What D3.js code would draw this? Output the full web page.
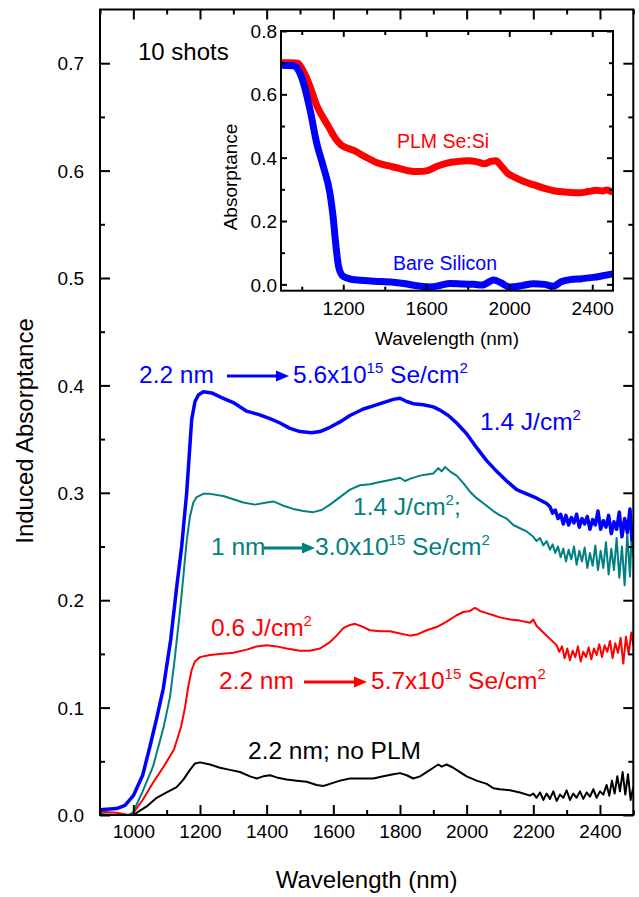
<!DOCTYPE html>
<html>
<head>
<meta charset="utf-8">
<script src="https://cdn.jsdelivr.net/npm/d3@7"></script>
<style>
  html, body { margin: 0; padding: 0; background: #fff; }
  svg { display: block; font-family: "Liberation Sans", Arial, sans-serif; }
</style>
</head>
<body>
<svg id="chart" width="639" height="897"></svg>
<script>
// ---------------- DATA ----------------
// Main panel: [wavelength nm, induced absorptance]
const blueSeries = [[900,0.005],[950,0.006],[975,0.009],[1000,0.018],[1028,0.037],[1050,0.064],[1070,0.090],[1090,0.118],[1112,0.163],[1130,0.212],[1145,0.250],[1160,0.300],[1175,0.368],[1185,0.385],[1195,0.391],[1210,0.394],[1235,0.393],[1270,0.388],[1300,0.384],[1340,0.376],[1375,0.373],[1410,0.369],[1440,0.365],[1470,0.360],[1500,0.357],[1535,0.356],[1560,0.357],[1590,0.361],[1620,0.366],[1650,0.372],[1690,0.378],[1720,0.381],[1750,0.384],[1780,0.387],[1800,0.388],[1820,0.385],[1840,0.383],[1870,0.382],[1900,0.380],[1920,0.377],[1945,0.372],[1970,0.365],[2000,0.355],[2030,0.342],[2060,0.330],[2090,0.320],[2120,0.311],[2150,0.303],[2180,0.299],[2210,0.295],[2240,0.290],[2250,0.287],[2258,0.281],[2266,0.284],[2274,0.276],[2282,0.280],[2290,0.271],[2298,0.279],[2306,0.270],[2314,0.277],[2322,0.272],[2330,0.280],[2338,0.268],[2346,0.276],[2354,0.271],[2362,0.278],[2370,0.266],[2378,0.275],[2386,0.270],[2394,0.283],[2402,0.266],[2410,0.274],[2418,0.268],[2426,0.279],[2434,0.262],[2442,0.273],[2450,0.266],[2458,0.282],[2466,0.259],[2474,0.276],[2482,0.263],[2490,0.285],[2496,0.256],[2500,0.270]];

const tealSeries = [[900,0.001],[950,0.000],[980,-0.002],[1000,0.003],[1028,0.022],[1059,0.045],[1091,0.082],[1110,0.110],[1123,0.142],[1140,0.190],[1150,0.222],[1160,0.255],[1170,0.278],[1180,0.291],[1190,0.296],[1210,0.299],[1230,0.299],[1270,0.297],[1300,0.294],[1330,0.291],[1365,0.289],[1400,0.291],[1420,0.292],[1450,0.288],[1480,0.285],[1510,0.283],[1540,0.282],[1565,0.284],[1590,0.289],[1620,0.296],[1650,0.303],[1680,0.307],[1710,0.308],[1740,0.310],[1770,0.312],[1800,0.314],[1815,0.311],[1830,0.313],[1860,0.316],[1880,0.317],[1900,0.318],[1915,0.323],[1925,0.320],[1935,0.324],[1950,0.320],[1970,0.316],[1990,0.309],[2010,0.301],[2030,0.295],[2060,0.288],[2080,0.283],[2100,0.279],[2120,0.276],[2140,0.270],[2160,0.267],[2180,0.264],[2200,0.259],[2210,0.255],[2220,0.258],[2230,0.251],[2240,0.255],[2250,0.247],[2258,0.252],[2266,0.244],[2274,0.250],[2282,0.240],[2290,0.248],[2298,0.236],[2306,0.247],[2314,0.238],[2322,0.250],[2330,0.233],[2338,0.246],[2346,0.236],[2354,0.249],[2362,0.230],[2370,0.244],[2378,0.232],[2386,0.251],[2394,0.228],[2402,0.246],[2410,0.230],[2418,0.254],[2426,0.224],[2434,0.248],[2442,0.228],[2450,0.258],[2458,0.221],[2466,0.250],[2474,0.214],[2482,0.262],[2490,0.222],[2496,0.268],[2500,0.240]];

const redSeries = [[900,0.003],[950,0.002],[985,0.000],[1000,0.002],[1028,0.014],[1059,0.030],[1091,0.045],[1122,0.061],[1143,0.082],[1155,0.100],[1165,0.120],[1175,0.135],[1185,0.143],[1200,0.147],[1230,0.149],[1260,0.150],[1300,0.151],[1340,0.154],[1370,0.157],[1400,0.158],[1430,0.157],[1460,0.155],[1500,0.153],[1530,0.153],[1560,0.155],[1590,0.161],[1610,0.167],[1630,0.174],[1650,0.177],[1665,0.178],[1690,0.175],[1710,0.172],[1740,0.171],[1770,0.171],[1800,0.169],[1830,0.167],[1850,0.168],[1880,0.172],[1910,0.175],[1940,0.180],[1970,0.186],[1990,0.189],[2010,0.190],[2025,0.193],[2040,0.190],[2060,0.188],[2080,0.186],[2100,0.184],[2130,0.182],[2160,0.181],[2190,0.179],[2200,0.182],[2210,0.176],[2230,0.170],[2250,0.164],[2270,0.158],[2278,0.152],[2286,0.157],[2294,0.146],[2302,0.155],[2310,0.144],[2318,0.153],[2326,0.147],[2334,0.157],[2342,0.143],[2350,0.152],[2358,0.147],[2366,0.156],[2374,0.145],[2382,0.155],[2390,0.149],[2398,0.159],[2406,0.147],[2414,0.158],[2422,0.152],[2430,0.162],[2438,0.146],[2446,0.160],[2454,0.151],[2462,0.165],[2470,0.141],[2478,0.166],[2486,0.150],[2494,0.170],[2500,0.158]];

const blackSeries = [[900,0.000],[950,-0.001],[1000,0.000],[1020,0.004],[1040,0.008],[1070,0.016],[1100,0.021],[1130,0.026],[1150,0.033],[1170,0.042],[1185,0.048],[1200,0.049],[1230,0.047],[1260,0.044],[1290,0.042],[1320,0.040],[1350,0.036],[1370,0.034],[1390,0.036],[1410,0.037],[1430,0.035],[1460,0.033],[1490,0.032],[1520,0.031],[1550,0.028],[1570,0.027],[1590,0.029],[1620,0.032],[1650,0.034],[1690,0.034],[1720,0.034],[1750,0.036],[1780,0.038],[1800,0.039],[1820,0.037],[1840,0.034],[1860,0.036],[1880,0.040],[1900,0.044],[1915,0.047],[1925,0.045],[1940,0.047],[1960,0.044],[1980,0.040],[2000,0.036],[2030,0.032],[2060,0.029],[2080,0.025],[2100,0.024],[2130,0.023],[2160,0.021],[2190,0.018],[2200,0.020],[2210,0.016],[2220,0.021],[2230,0.014],[2240,0.020],[2250,0.015],[2260,0.022],[2270,0.013],[2280,0.019],[2290,0.016],[2300,0.023],[2310,0.014],[2320,0.020],[2330,0.016],[2340,0.022],[2350,0.015],[2360,0.021],[2370,0.017],[2380,0.024],[2390,0.016],[2400,0.022],[2410,0.019],[2420,0.028],[2428,0.018],[2436,0.032],[2444,0.020],[2452,0.036],[2460,0.022],[2468,0.040],[2476,0.019],[2484,0.038],[2492,0.014],[2500,0.026]];

// Inset: [wavelength nm, absorptance]
const insetRedSeries = [[900,0.700],[950,0.700],[980,0.698],[1010,0.670],[1040,0.625],[1072,0.565],[1100,0.530],[1130,0.497],[1160,0.463],[1190,0.440],[1220,0.430],[1260,0.420],[1300,0.405],[1360,0.385],[1420,0.374],[1460,0.368],[1520,0.358],[1560,0.356],[1610,0.360],[1650,0.372],[1700,0.383],[1750,0.388],[1800,0.390],[1850,0.386],[1880,0.381],[1910,0.388],[1935,0.390],[1960,0.375],[1990,0.352],[2030,0.337],[2070,0.325],[2120,0.314],[2170,0.303],[2220,0.295],[2280,0.291],[2340,0.289],[2380,0.293],[2420,0.297],[2450,0.295],[2470,0.298],[2500,0.290]];
const insetBlueSeries = [[900,0.692],[960,0.690],[985,0.675],[1010,0.632],[1040,0.551],[1072,0.446],[1104,0.372],[1136,0.287],[1150,0.220],[1165,0.120],[1178,0.055],[1200,0.025],[1240,0.016],[1280,0.013],[1350,0.010],[1440,0.007],[1500,0.002],[1540,-0.003],[1620,-0.008],[1670,-0.003],[1714,0.003],[1780,0.001],[1830,0.000],[1870,-0.002],[1925,0.014],[1960,0.005],[2000,-0.008],[2060,-0.004],[2116,0.002],[2170,0.000],[2212,-0.006],[2250,0.008],[2293,0.015],[2350,0.018],[2405,0.022],[2450,0.027],[2500,0.033]];

// Tick values
const mainXTicks = [1000,1200,1400,1600,1800,2000,2200,2400];
const mainXMinor = [900,1100,1300,1500,1700,1900,2100,2300,2500];
const mainYTicks = [0.0,0.1,0.2,0.3,0.4,0.5,0.6,0.7];
const mainYMinor = [0.05,0.15,0.25,0.35,0.45,0.55,0.65];
const insetXTicks = [1200,1600,2000,2400];
const insetXMinor = [1000,1400,1800,2200];
const insetYTicks = [0.0,0.2,0.4,0.6,0.8];
const insetYMinor = [0.1,0.3,0.5,0.7];

// ---------------- DRAWING ----------------
const svg = d3.select("#chart");
const FONT = '"Liberation Sans", Arial, sans-serif';
const ANN = 24.5, SUP = 15;

const M = {left:100, right:633.3, top:9.5, bottom:815};
const x = d3.scaleLinear().domain([900,2500]).range([M.left, M.right]);
const y = d3.scaleLinear().domain([0,0.75]).range([M.bottom, M.top]);

const I = {left:281, right:613, top:31, bottom:290.7};
const xi = d3.scaleLinear().domain([900,2500]).range([I.left, I.right]);
const yi = d3.scaleLinear().domain([-0.02,0.8]).range([I.bottom, I.top]);

function drawFrame(xs, ys, box, o) {
  const g = svg.append("g");
  const mk = (axisFn, scale, vals, size, tx, ty, labels, fmt) => {
    const a = axisFn(scale).tickValues(vals).tickSize(size).tickPadding(o.pad);
    if (labels) a.tickFormat(fmt); else a.tickFormat("");
    const gg = g.append("g").attr("transform", `translate(${tx},${ty})`).call(a);
    gg.select(".domain").remove();
    gg.selectAll(".tick line").attr("stroke","#000").attr("stroke-width", o.tw);
    gg.selectAll("text").attr("fill","#000").style("font-size", o.fs+"px").style("font-family", FONT);
    return gg;
  };
  const bx = mk(d3.axisBottom, xs, o.xt, -o.major, 0, box.bottom, true, d3.format("d"));
  bx.selectAll("text").attr("y", o.xLabelDy).attr("dy", null);
  mk(d3.axisBottom, xs, o.xm, -o.minor, 0, box.bottom, false);
  mk(d3.axisTop, xs, o.xt, -o.major, 0, box.top, false);
  mk(d3.axisTop, xs, o.xm, -o.minor, 0, box.top, false);
  const ly = mk(d3.axisLeft, ys, o.yt, -o.major, box.left, 0, true, d3.format(".1f"));
  ly.selectAll("text").attr("x", -o.yLabelDx).attr("dy","0.35em");
  mk(d3.axisLeft, ys, o.ym, -o.minor, box.left, 0, false);
  mk(d3.axisRight, ys, o.yt, -o.major, box.right, 0, false);
  mk(d3.axisRight, ys, o.ym, -o.minor, box.right, 0, false);
  g.append("rect").attr("x", box.left).attr("y", box.top)
    .attr("width", box.right-box.left).attr("height", box.bottom-box.top)
    .attr("fill","none").attr("stroke","#000").attr("stroke-width", o.fw);
  return g;
}

svg.append("clipPath").attr("id","clipMain").append("rect")
  .attr("x",M.left).attr("y",M.top).attr("width",M.right-M.left).attr("height",M.bottom-M.top);
svg.append("clipPath").attr("id","clipInset").append("rect")
  .attr("x",I.left).attr("y",I.top).attr("width",I.right-I.left).attr("height",I.bottom-I.top);

const line = d3.line().x(d=>x(d[0])).y(d=>y(d[1])).curve(d3.curveLinear);
const lineI = d3.line().x(d=>xi(d[0])).y(d=>yi(d[1])).curve(d3.curveMonotoneX);

const gMain = svg.append("g").attr("clip-path","url(#clipMain)");
const series = [
  {d: blackSeries, c:"#000000", w:2},
  {d: redSeries,   c:"#ff0000", w:2},
  {d: tealSeries,  c:"#008080", w:2},
  {d: blueSeries,  c:"#0000ff", w:3.5},
];
series.forEach(s => {
  gMain.append("path").datum(s.d).attr("d", line)
    .attr("fill","none").attr("stroke", s.c).attr("stroke-width", s.w)
    .attr("stroke-linejoin","round");
});

drawFrame(x, y, M, {xt: mainXTicks, xm: mainXMinor, yt: mainYTicks, ym: mainYMinor,
  major:10, minor:5, tw:2, fw:2, fs:19, pad:8, xLabelDy:23, yLabelDx:16});

svg.append("text").attr("x", (M.left+M.right)/2).attr("y", 888)
  .attr("text-anchor","middle").style("font-size","24px").text("Wavelength (nm)");
svg.append("text").attr("transform","translate(33,431) rotate(-90)")
  .attr("text-anchor","middle").style("font-size","24px").text("Induced Absorptance");

svg.append("text").attr("x",138).attr("y",60).style("font-size","24px").text("10 shots");

// ---------------- Inset ----------------
svg.append("rect").attr("x",I.left).attr("y",I.top).attr("width",I.right-I.left).attr("height",I.bottom-I.top).attr("fill","#fff");
const gIn = svg.append("g").attr("clip-path","url(#clipInset)");
gIn.append("path").datum(insetRedSeries).attr("d", lineI)
  .attr("fill","none").attr("stroke","#ff0000").attr("stroke-width",7).attr("stroke-linejoin","round");
gIn.append("path").datum(insetBlueSeries).attr("d", lineI)
  .attr("fill","none").attr("stroke","#0000ff").attr("stroke-width",7).attr("stroke-linejoin","round");

drawFrame(xi, yi, I, {xt: insetXTicks, xm: insetXMinor, yt: insetYTicks, ym: insetYMinor,
  major:6, minor:4, tw:2, fw:2, fs:19, pad:4, xLabelDy:24, yLabelDx:4});

svg.append("text").attr("x",(I.left+I.right)/2).attr("y",345).attr("text-anchor","middle")
  .style("font-size","19px").text("Wavelength (nm)");
svg.append("text").attr("transform","translate(237,177) rotate(-90)").attr("text-anchor","middle")
  .style("font-size","19px").text("Absorptance");
svg.append("text").attr("x",397).attr("y",148).attr("fill","#ff0000").style("font-size","19.5px").text("PLM Se:Si");
svg.append("text").attr("x",393).attr("y",270).attr("fill","#0000ff").style("font-size","19.5px").text("Bare Silicon");

// ---------------- Annotations ----------------
function sciLabel(xp, yp, color, base, exp, unit) {
  const t = svg.append("text").attr("x",xp).attr("y",yp).attr("fill",color).style("font-size",ANN+"px");
  t.append("tspan").text(base);
  t.append("tspan").attr("dy",-10).style("font-size",SUP+"px").text(exp);
  t.append("tspan").attr("dy",10).text(" " + unit);
  t.append("tspan").attr("dy",-10).style("font-size",SUP+"px").text("2");
  return t;
}
function plainSup(xp, yp, color, main, sup, tail) {
  const t = svg.append("text").attr("x",xp).attr("y",yp).attr("fill",color).style("font-size",ANN+"px");
  t.append("tspan").text(main);
  t.append("tspan").attr("dy",-10).style("font-size",SUP+"px").text(sup);
  if (tail) t.append("tspan").attr("dy",10).text(tail);
  return t;
}
function plain(xp, yp, color, s) {
  return svg.append("text").attr("x",xp).attr("y",yp).attr("fill",color).style("font-size",ANN+"px").text(s);
}
function arrow(x1, x2, yp, color) {
  svg.append("line").attr("x1",x1).attr("x2",x2-10).attr("y1",yp).attr("y2",yp)
    .attr("stroke",color).attr("stroke-width",3);
  svg.append("path").attr("d",`M${x2},${yp} L${x2-13},${yp-5.5} L${x2-13},${yp+5.5} Z`).attr("fill",color);
}

// blue
plain(139, 383, "#0000ff", "2.2 nm");
arrow(227, 289, 376, "#0000ff");
sciLabel(293, 383, "#0000ff", "5.6x10", "15", "Se/cm");
plainSup(480, 430, "#0000ff", "1.4 J/cm", "2");

// teal
plainSup(353, 515, "#008080", "1.4 J/cm", "2", ";");
plain(211, 555, "#008080", "1 nm");
arrow(264, 315, 548, "#008080");
sciLabel(315, 555, "#008080", "3.0x10", "15", "Se/cm");

// red
plainSup(211, 636, "#ff0000", "0.6 J/cm", "2");
plain(219, 689, "#ff0000", "2.2 nm");
arrow(304, 367, 682, "#ff0000");
sciLabel(371, 689, "#ff0000", "5.7x10", "15", "Se/cm");

// black
plain(248, 759, "#000", "2.2 nm; no PLM");
</script>
</body>
</html>
